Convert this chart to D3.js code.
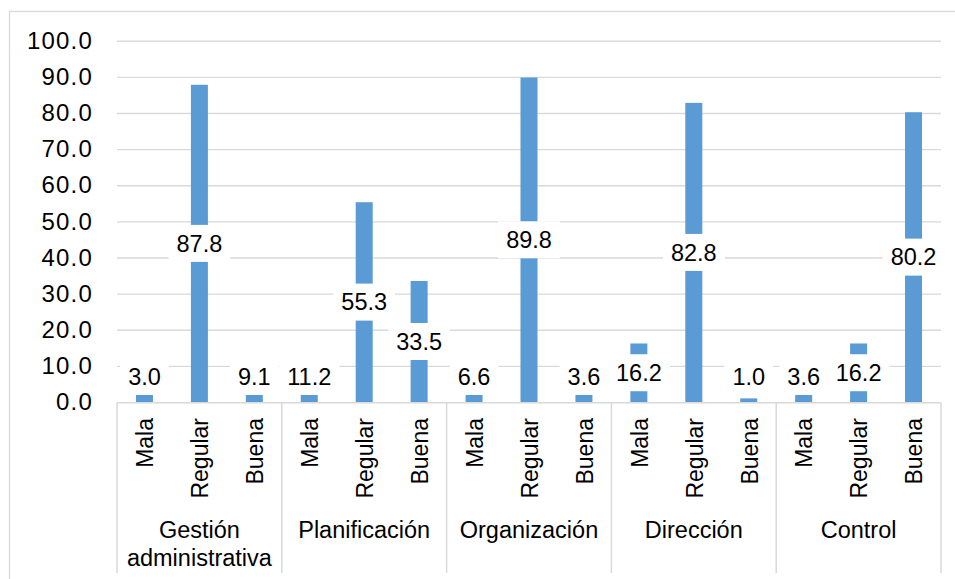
<!DOCTYPE html>
<html>
<head>
<meta charset="utf-8">
<script src="https://cdn.jsdelivr.net/npm/d3@7"></script>
<style>
  html, body { margin: 0; padding: 0; background: #fff; }
  svg { display: block; font-family: "Liberation Sans", Arial, sans-serif; }
</style>
</head>
<body>
<svg id="chart" width="955" height="579"></svg>
<script>
// Dimensions of administrative management and rating level (%)
const categories = ["Gestión administrativa", "Planificación", "Organización", "Dirección", "Control"];
const levels = ["Mala", "Regular", "Buena"];
const malaValues    = [3.0, 11.2, 6.6, 16.2, 3.6];
const regularValues = [87.8, 55.3, 89.8, 82.8, 16.2];
const buenaValues   = [9.1, 33.5, 3.6, 1.0, 80.2];
const yTickValues = [0, 10, 20, 30, 40, 50, 60, 70, 80, 90, 100];

const seriesByLevel = { "Mala": malaValues, "Regular": regularValues, "Buena": buenaValues };
const rows = [];
categories.forEach((c, i) => {
  levels.forEach(l => rows.push({ category: c, level: l, value: seriesByLevel[l][i] }));
});

const svg = d3.select("#chart");
const plotLeft = 117, plotRight = 941, plotTop = 40.7, plotBottom = 402;
const axisY = 402.7, dividerBottom = 573;
const barColor = "#5b9bd5", gridColor = "#d9d9d9";

// Chart area outline (extends past the visible frame on the right and bottom)
svg.append("rect")
  .attr("x", 9.5).attr("y", 11.5).attr("width", 1000).attr("height", 700)
  .attr("fill", "#fff").attr("stroke", gridColor).attr("stroke-width", 1.3);

const y = d3.scaleLinear().domain([0, 100]).range([plotBottom, plotTop]);
const x0 = d3.scaleBand().domain(categories).range([plotLeft, plotRight]).padding(0);
const bandP = 1 - 17 / (x0.bandwidth() / levels.length);
const x1 = d3.scaleBand().domain(levels).range([0, x0.bandwidth()])
  .paddingInner(bandP).paddingOuter(bandP / 2);

// Horizontal gridlines
const grid = svg.append("g")
  .attr("transform", `translate(${plotLeft},0)`)
  .call(d3.axisLeft(y).tickValues(yTickValues.filter(v => v > 0)).tickSize(-(plotRight - plotLeft)).tickFormat(""));
grid.select(".domain").remove();
grid.selectAll("line").attr("stroke", gridColor).attr("stroke-width", 1.4);

// Y tick labels
const yAxis = svg.append("g")
  .attr("transform", `translate(${plotLeft - 24},0)`)
  .call(d3.axisLeft(y).tickValues(yTickValues).tickSize(0).tickPadding(0).tickFormat(d3.format(".1f")));
yAxis.select(".domain").remove();
yAxis.selectAll("text")
  .attr("font-size", 24).attr("letter-spacing", 1.2).attr("fill", "#000")
  .attr("font-family", "Liberation Sans, Arial, sans-serif");

// Bars
svg.append("g").selectAll("rect").data(rows).join("rect")
  .attr("x", d => x0(d.category) + x1(d.level))
  .attr("width", x1.bandwidth())
  .attr("y", d => y(d.value))
  .attr("height", d => y(0) - y(d.value))
  .attr("fill", barColor);

// Category axis: baseline and group dividers
svg.append("line")
  .attr("x1", plotLeft).attr("x2", plotRight).attr("y1", axisY).attr("y2", axisY)
  .attr("stroke", gridColor).attr("stroke-width", 1.5);
const dividerXs = categories.map(c => x0(c)).concat([plotRight]);
svg.append("g").selectAll("line").data(dividerXs).join("line")
  .attr("x1", d => d).attr("x2", d => d)
  .attr("y1", axisY).attr("y2", dividerBottom)
  .attr("stroke", gridColor).attr("stroke-width", 1.5);

// Rotated level labels under each bar
svg.append("g").selectAll("text").data(rows).join("text")
  .attr("transform", d => `translate(${x0(d.category) + x1(d.level) + x1.bandwidth() / 2 + 8.8},418) rotate(-90)`)
  .attr("text-anchor", "end")
  .attr("font-size", 23)
  .attr("fill", "#000")
  .text(d => d.level);

// Group labels, wrapped to the group width
const groupLabels = svg.append("g").selectAll("text").data(categories).join("text")
  .attr("x", d => x0(d) + x0.bandwidth() / 2)
  .attr("y", 538)
  .attr("text-anchor", "middle")
  .attr("font-size", 23.5)
  .attr("fill", "#000");
groupLabels.each(function (d) {
  const t = d3.select(this);
  t.text(d);
  if (this.getComputedTextLength() > x0.bandwidth() - 6) {
    const words = d.split(" ");
    t.text(null);
    words.forEach((w, i) => {
      t.append("tspan").attr("x", x0(d) + x0.bandwidth() / 2)
        .attr("dy", i === 0 ? 0 : 27.5).text(w);
    });
  }
});

// Data labels centred on the bars, on white boxes, kept above the axis
const labelH = 37, maxCenter = 376.5;
const labels = svg.append("g").selectAll("g").data(rows).join("g")
  .attr("transform", d => {
    const cx = x0(d.category) + x1(d.level) + x1.bandwidth() / 2;
    const cy = Math.min(y(d.value / 2), maxCenter);
    return `translate(${cx},${cy})`;
  });
labels.append("rect").attr("fill", "#fff");
labels.append("text")
  .attr("text-anchor", "middle")
  .attr("dy", "0.35em")
  .attr("font-size", 23.5)
  .attr("fill", "#000")
  .text(d => d3.format(".1f")(d.value));
labels.each(function () {
  const g = d3.select(this);
  const w = g.select("text").node().getComputedTextLength() + 16;
  g.select("rect").attr("x", -w / 2).attr("y", -labelH / 2).attr("width", w).attr("height", labelH);
});
</script>
</body>
</html>
